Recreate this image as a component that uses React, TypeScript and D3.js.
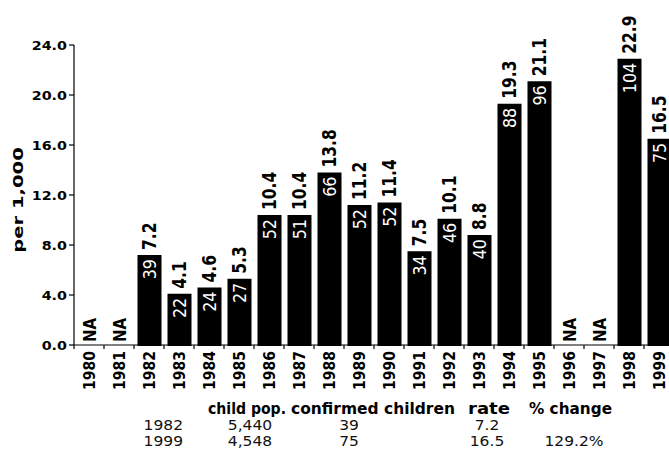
import React from "react";
import * as d3 from "d3";

const years = ["1980","1981","1982","1983","1984","1985","1986","1987","1988","1989","1990","1991","1992","1993","1994","1995","1996","1997","1998","1999"];
const rates: (number | null)[] = [null, null, 7.2, 4.1, 4.6, 5.3, 10.4, 10.4, 13.8, 11.2, 11.4, 7.5, 10.1, 8.8, 19.3, 21.1, null, null, 22.9, 16.5];
const counts: (number | null)[] = [null, null, 39, 22, 24, 27, 52, 51, 66, 52, 52, 34, 46, 40, 88, 96, null, null, 104, 75];
const yTicks = [0, 4, 8, 12, 16, 20, 24];
const tableHeaders = ["child pop.", "confirmed children", "rate", "% change"];
const tableRows = [
  ["1982", "5,440", "39", "7.2", ""],
  ["1999", "4,548", "75", "16.5", "129.2%"],
];

const FONT = "'DejaVu Sans', sans-serif";
const W = 669, H = 456;

export default function App() {
  const x = d3.scaleBand<string>().domain(years).range([74, 674]).paddingInner(0.2).paddingOuter(0.1);
  const y = d3.scaleLinear().domain([0, 24]).range([345, 45]);
  const step = x.step();
  const x0 = 74;
  const fmt = d3.format(".1f");

  // table layout
  const headerX = [208, 291, 468, 529];
  const headerLen = [78, 164, 42, 83];
  const rowX = [183, 250, 349, 487, 574];
  const rowAnchor = ["end", "middle", "middle", "middle", "middle"];

  return (
    <svg width={W} height={H} style={{ position: "absolute", left: 0, top: 0, background: "#fff" }} fontFamily={FONT}>
      {/* y axis */}
      <line x1={x0} x2={x0} y1={y(24)} y2={y(0)} stroke="#000" strokeWidth={1.2} />
      {yTicks.map((t) => (
        <g key={t}>
          <line x1={x0 - 5} x2={x0} y1={y(t)} y2={y(t)} stroke="#000" strokeWidth={1.2} />
          <text transform={`translate(67,${y(t)}) scale(1.1,1)`} dy="0.36em" textAnchor="end" fontSize={13} fontWeight="bold">
            {fmt(t)}
          </text>
        </g>
      ))}
      <text transform={`translate(18,${y(11.6)}) rotate(-90) scale(1.35,1)`} textAnchor="middle" dy="0.36em" fontSize={14.5} fontWeight="bold">
        per 1,000
      </text>

      {/* x axis */}
      <line x1={x0} x2={W} y1={y(0)} y2={y(0)} stroke="#000" strokeWidth={1.2} />
      {years.map((yr, i) => (
        <line key={"t" + yr} x1={x0 + i * step} x2={x0 + i * step} y1={y(0)} y2={y(0) + 4} stroke="#000" strokeWidth={1.2} />
      ))}

      {/* bars */}
      {years.map((yr, i) => {
        const r = rates[i];
        const bx = (x(yr) as number) + 0.5;
        const cx = bx + x.bandwidth() / 2;
        if (r == null) {
          return (
            <text key={yr} transform={`translate(${cx},${y(0) - 3}) scale(1.2,1) rotate(-90)`} dy="0.36em" fontSize={15} fontWeight="bold">
              NA
            </text>
          );
        }
        const top = y(r);
        return (
          <g key={yr}>
            <rect x={bx} y={top} width={x.bandwidth()} height={y(0) - top + 1} fill="#000" />
            <text transform={`translate(${cx - 0.5},${top - 5}) scale(1.25,1) rotate(-90)`} dy="0.36em" fontSize={15.5} fontWeight="bold">
              {fmt(r)}
            </text>
            <text transform={`translate(${cx},${top + 4}) scale(1.1,1) rotate(-90)`} dy="0.36em" textAnchor="end" fontSize={16} fill="#fff">
              {counts[i]}
            </text>
          </g>
        );
      })}

      {/* x tick labels */}
      {years.map((yr) => (
        <text key={"l" + yr} transform={`translate(${(x(yr) as number) + 0.5 + x.bandwidth() / 2},${y(0) + 6}) scale(1.15,1) rotate(-90)`} dy="0.36em" textAnchor="end" fontSize={14} fontWeight="bold">
          {yr}
        </text>
      ))}

      {/* table */}
      {tableHeaders.map((h, i) => (
        <text key={h} x={headerX[i]} y={414} fontSize={15} fontWeight="bold" textLength={headerLen[i]} lengthAdjust="spacingAndGlyphs">
          {h}
        </text>
      ))}
      {tableRows.map((row, ri) =>
        row.map((c, ci) => (
          <text key={ri + "-" + ci} transform={`translate(${rowX[ci]},${430 + ri * 16}) scale(1.15,1)`} fontSize={13.5} textAnchor={rowAnchor[ci] as any} fill="#111">
            {c}
          </text>
        ))
      )}
    </svg>
  );
}
